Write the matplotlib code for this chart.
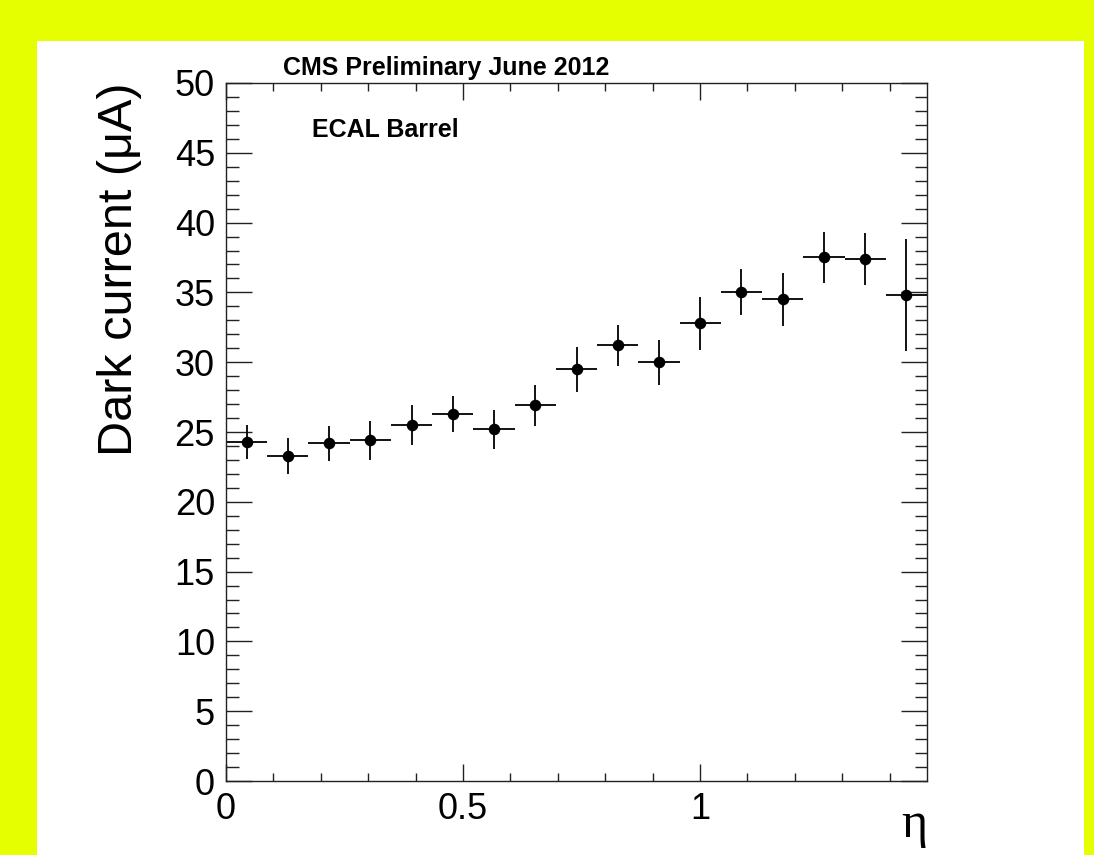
import matplotlib
matplotlib.use('Agg')
import matplotlib.pyplot as plt
from matplotlib.patches import Rectangle
from matplotlib.ticker import MultipleLocator
import numpy as np

# ECAL barrel: 17 eta bins from 0 to 1.479
eta_max = 1.479
n_bins = 17
bin_edges = np.linspace(0, eta_max, n_bins + 1)
eta_centres = 0.5 * (bin_edges[:-1] + bin_edges[1:])
eta_halfwidth = 0.5 * (bin_edges[1:] - bin_edges[:-1])

# dark current per bin (uA) and its error
dark_current = [24.3, 23.3, 24.2, 24.4, 25.5, 26.3, 25.2, 26.9, 29.5, 31.2,
                30.0, 32.8, 35.0, 34.5, 37.5, 37.4, 34.8]
dark_err = [1.2, 1.3, 1.25, 1.4, 1.4, 1.3, 1.4, 1.5, 1.6, 1.5,
            1.6, 1.9, 1.65, 1.9, 1.8, 1.85, 4.0]

W, H = 1094, 855
fig = plt.figure(figsize=(W / 100, H / 100), dpi=100)
fig.patch.set_facecolor('#e6ff00')
# white canvas inside the yellow frame
fig.patches.append(Rectangle((37 / W, 0), (1084 - 37) / W, (855 - 41) / H,
                             transform=fig.transFigure, facecolor='white',
                             edgecolor='none', zorder=-5))

ax = fig.add_axes([226 / W, (H - 781) / H, 701 / W, 698 / H])
ax.set_facecolor('white')

ax.errorbar(eta_centres, dark_current, xerr=eta_halfwidth, yerr=dark_err,
            fmt='o', color='black', markersize=7.3, elinewidth=1.3, capsize=0)

ax.set_xlim(0, eta_max)
ax.set_ylim(0, 50)

ax.xaxis.set_major_locator(MultipleLocator(0.5))
ax.xaxis.set_minor_locator(MultipleLocator(0.1))
ax.yaxis.set_major_locator(MultipleLocator(5))
ax.yaxis.set_minor_locator(MultipleLocator(1))
ax.set_xticks([0, 0.5, 1])
ax.set_xticklabels(['0', '0.5', '1'])

font = 'Liberation Sans'
for lab in ax.get_xticklabels() + ax.get_yticklabels():
    lab.set_fontfamily(font)
    lab.set_fontsize(26)

ax.tick_params(axis='both', which='both', direction='in', top=True, right=True,
               width=1.0, color='#222222')
ax.tick_params(axis='y', which='major', length=18.5, pad=8)
ax.tick_params(axis='y', which='minor', length=9)
ax.tick_params(axis='x', which='major', length=12.5, pad=8)
ax.tick_params(axis='x', which='minor', length=6)
for sp in ax.spines.values():
    sp.set_linewidth(1.0)
    sp.set_color('#222222')

ax.set_ylabel('Dark current (\u03bcA)', fontsize=35, family=font, loc='top')
ax.yaxis.set_label_coords(-0.12, 1.0)

ax.text(1.0, -0.080, '\u03b7', transform=ax.transAxes, ha='right', va='baseline',
        fontsize=36, family='Liberation Serif')

fig.text(283 / W, 1 - 75 / H, 'CMS Preliminary June 2012', fontsize=18,
         fontweight='bold', family=font, ha='left', va='baseline')
ax.text((311.7 - 226) / 701, (781 - 136.7) / 698, 'ECAL Barrel',
        transform=ax.transAxes, fontsize=18, fontweight='bold', family=font,
        ha='left', va='baseline')

fig.savefig('out.png', dpi=100, facecolor=fig.get_facecolor())
